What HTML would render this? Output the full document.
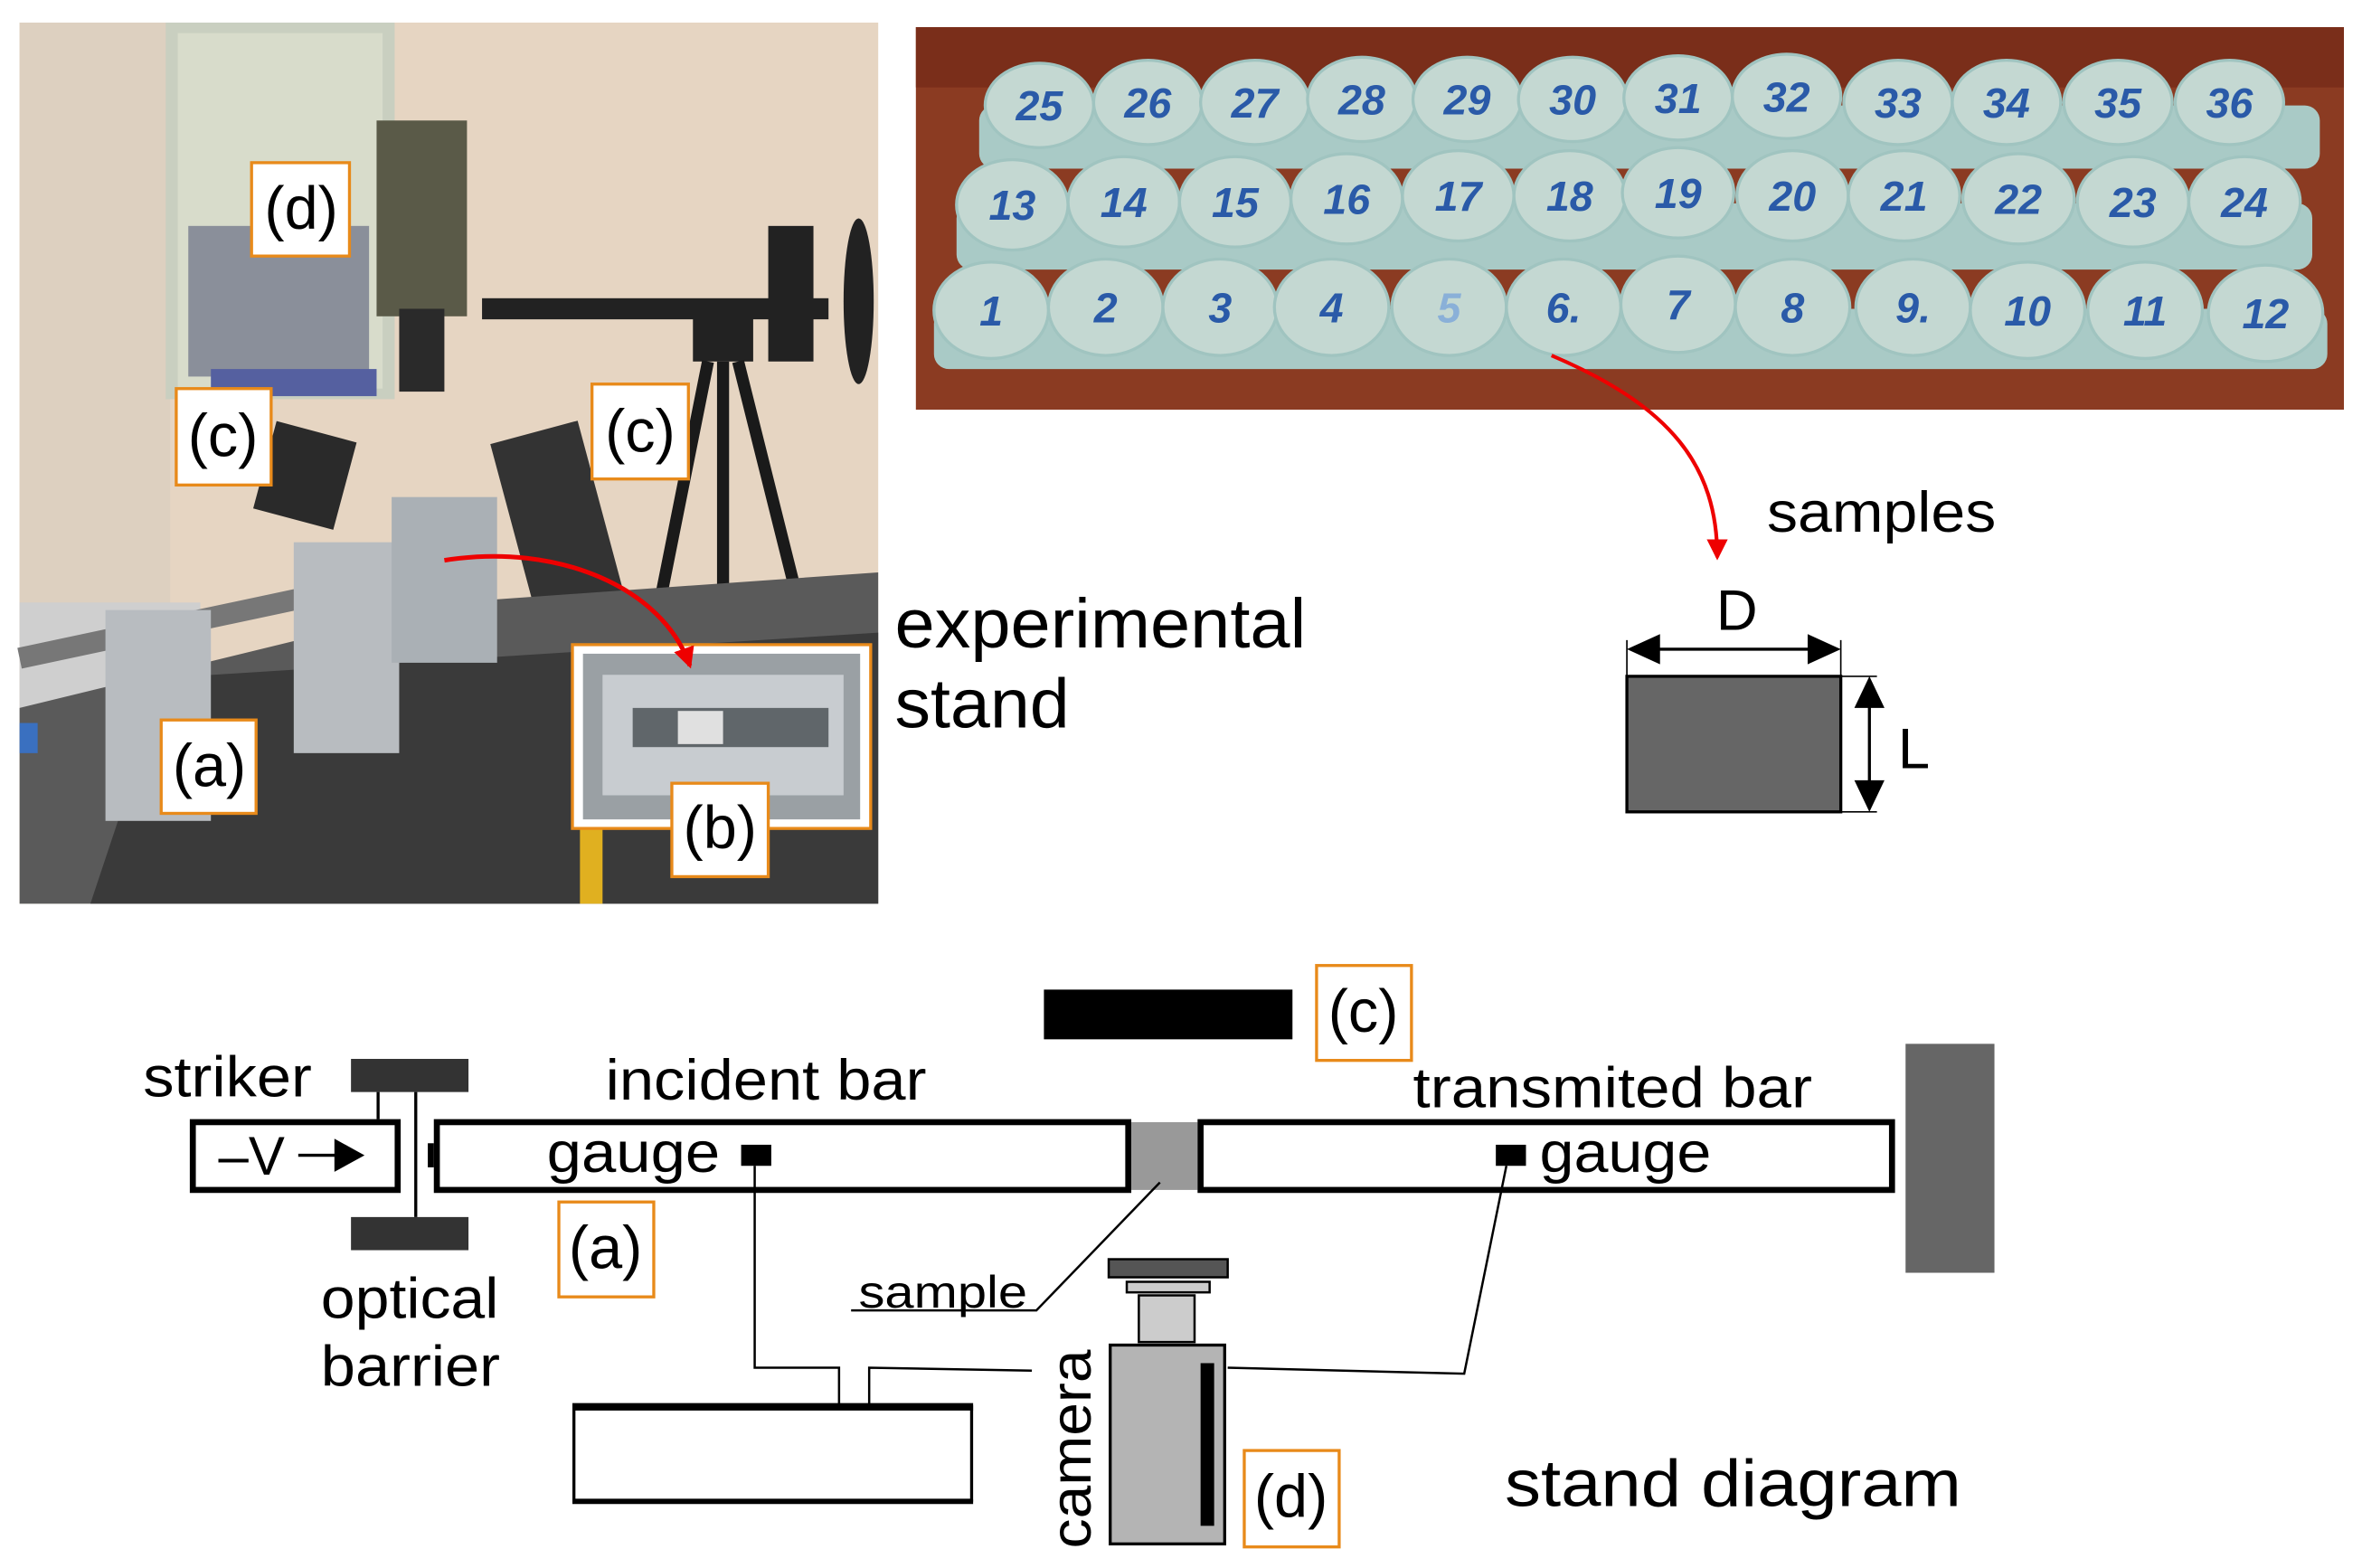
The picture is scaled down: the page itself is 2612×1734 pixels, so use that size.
<!DOCTYPE html>
<html><head><meta charset="utf-8"><style>
html,body{margin:0;padding:0;background:#fff;}
svg{display:block;}
text{font-family:"Liberation Sans",Arial,sans-serif;fill:#000;}
</style></head><body>
<svg width="2612" height="1734" viewBox="0 0 1568 1041" preserveAspectRatio="none" xmlns="http://www.w3.org/2000/svg">
<defs>
<marker id="ar2" markerWidth="14" markerHeight="14" refX="12" refY="7" orient="auto" markerUnits="userSpaceOnUse"><path d="M0,0 L14,7 L0,14 z" fill="#e00"/></marker>
</defs>
<!-- LEFT PHOTO -->
<rect x="13" y="15" width="570" height="585" fill="#e6d5c2"/>
<rect x="13" y="15" width="100" height="585" fill="#ddd0c0"/>
<rect x="110" y="15" width="152" height="250" fill="#c9cfc0"/>
<rect x="118" y="22" width="136" height="236" fill="#d8dccb"/>
<rect x="125" y="150" width="120" height="100" fill="#8a8f9a"/>
<rect x="140" y="245" width="110" height="18" fill="#5560a0"/>
<rect x="250" y="80" width="60" height="130" fill="#5a5a48"/>
<rect x="265" y="205" width="30" height="55" fill="#2a2a2a"/>
<rect x="320" y="198" width="230" height="14" fill="#222"/>
<rect x="460" y="200" width="40" height="40" fill="#222"/>
<path d="M470,240 L430,440 M480,240 L480,440 M490,240 L540,440" stroke="#1a1a1a" stroke-width="8"/>
<rect x="510" y="150" width="30" height="90" fill="#222"/>
<ellipse cx="570" cy="200" rx="10" ry="55" fill="#222"/>
<rect x="175" y="285" width="55" height="60" fill="#2a2a2a" transform="rotate(15 200 315)"/>
<rect x="340" y="285" width="60" height="120" fill="#333" transform="rotate(-15 370 345)"/>
<rect x="13" y="400" width="120" height="80" fill="#cfcfcf"/>
<polygon points="13,560 13,470 300,400 583,380 583,600 13,600" fill="#5a5a5a"/>
<polygon points="60,600 110,450 583,420 583,600" fill="#3a3a3a"/>
<rect x="13" y="430" width="300" height="14" fill="#777" transform="rotate(-12 13 437)"/>
<rect x="70" y="405" width="70" height="140" fill="#b8bcc0"/>
<rect x="195" y="360" width="70" height="140" fill="#b8bcc0"/>
<rect x="260" y="330" width="70" height="110" fill="#aab0b5"/>
<rect x="13" y="480" width="12" height="20" fill="#3a70c0"/>
<rect x="385" y="500" width="15" height="100" fill="#e0b020"/>
<rect x="380" y="428" width="198" height="122" fill="#fff" stroke="#e88a1a" stroke-width="2"/>
<rect x="387" y="434" width="184" height="110" fill="#9aa0a4"/>
<rect x="400" y="448" width="160" height="80" fill="#c8ccd0"/>
<rect x="420" y="470" width="130" height="26" fill="#60666a"/>
<rect x="450" y="472" width="30" height="22" fill="#e0e0e0"/>
<path d="M295,372 C370,360 440,390 458,442" fill="none" stroke="#e00" stroke-width="3" marker-end="url(#ar2)"/>
<g fill="#fff" stroke="#e88a1a" stroke-width="2">
<rect x="167" y="108" width="65" height="62"/><rect x="117" y="258" width="63" height="64"/><rect x="393" y="255" width="64" height="63"/><rect x="107" y="478" width="63" height="62"/><rect x="446" y="520" width="64" height="62"/>
</g>
<g font-size="40" text-anchor="middle">
<text x="200" y="152">(d)</text><text x="148" y="303">(c)</text><text x="425" y="300">(c)</text><text x="139" y="522">(a)</text><text x="478" y="563">(b)</text>
</g>
<!-- SAMPLES PHOTO -->
<rect x="608" y="18" width="948" height="254" fill="#8b3b22"/>
<rect x="608" y="18" width="948" height="40" fill="#7a2e1a"/>
<g fill="#a9cac6">
<rect x="650" y="70" width="890" height="42" rx="10"/>
<rect x="635" y="135" width="900" height="44" rx="10"/>
<rect x="620" y="205" width="925" height="40" rx="10"/>
</g>
<g fill="#c4d8d2" stroke="#a0c4c0" stroke-width="2">
<ellipse cx="690" cy="70" rx="36" ry="28"/><ellipse cx="762" cy="68" rx="36" ry="28"/><ellipse cx="833" cy="68" rx="36" ry="28"/><ellipse cx="904" cy="66" rx="36" ry="28"/><ellipse cx="974" cy="66" rx="36" ry="28"/><ellipse cx="1044" cy="66" rx="36" ry="28"/><ellipse cx="1114" cy="65" rx="36" ry="28"/><ellipse cx="1186" cy="64" rx="36" ry="28"/><ellipse cx="1260" cy="68" rx="36" ry="28"/><ellipse cx="1332" cy="68" rx="36" ry="28"/><ellipse cx="1406" cy="68" rx="36" ry="28"/><ellipse cx="1480" cy="68" rx="36" ry="28"/>
<ellipse cx="672" cy="136" rx="37" ry="30"/><ellipse cx="746" cy="134" rx="37" ry="30"/><ellipse cx="820" cy="134" rx="37" ry="30"/><ellipse cx="894" cy="132" rx="37" ry="30"/><ellipse cx="968" cy="130" rx="37" ry="30"/><ellipse cx="1042" cy="130" rx="37" ry="30"/><ellipse cx="1114" cy="128" rx="37" ry="30"/><ellipse cx="1190" cy="130" rx="37" ry="30"/><ellipse cx="1264" cy="130" rx="37" ry="30"/><ellipse cx="1340" cy="132" rx="37" ry="30"/><ellipse cx="1416" cy="134" rx="37" ry="30"/><ellipse cx="1490" cy="134" rx="37" ry="30"/>
<ellipse cx="658" cy="206" rx="38" ry="32"/><ellipse cx="734" cy="204" rx="38" ry="32"/><ellipse cx="810" cy="204" rx="38" ry="32"/><ellipse cx="884" cy="204" rx="38" ry="32"/><ellipse cx="962" cy="204" rx="38" ry="32"/><ellipse cx="1038" cy="204" rx="38" ry="32"/><ellipse cx="1114" cy="202" rx="38" ry="32"/><ellipse cx="1190" cy="204" rx="38" ry="32"/><ellipse cx="1270" cy="204" rx="38" ry="32"/><ellipse cx="1346" cy="206" rx="38" ry="32"/><ellipse cx="1424" cy="206" rx="38" ry="32"/><ellipse cx="1504" cy="208" rx="38" ry="32"/>
</g>
<g font-size="28" font-weight="bold" font-style="italic" text-anchor="middle">
<text x="690" y="80" style="fill:#2a5aa8">25</text><text x="762" y="78" style="fill:#2a5aa8">26</text><text x="833" y="78" style="fill:#2a5aa8">27</text><text x="904" y="76" style="fill:#2a5aa8">28</text><text x="974" y="76" style="fill:#2a5aa8">29</text><text x="1044" y="76" style="fill:#2a5aa8">30</text><text x="1114" y="75" style="fill:#2a5aa8">31</text><text x="1186" y="74" style="fill:#2a5aa8">32</text><text x="1260" y="78" style="fill:#2a5aa8">33</text><text x="1332" y="78" style="fill:#2a5aa8">34</text><text x="1406" y="78" style="fill:#2a5aa8">35</text><text x="1480" y="78" style="fill:#2a5aa8">36</text>
<text x="672" y="146" style="fill:#2a5aa8">13</text><text x="746" y="144" style="fill:#2a5aa8">14</text><text x="820" y="144" style="fill:#2a5aa8">15</text><text x="894" y="142" style="fill:#2a5aa8">16</text><text x="968" y="140" style="fill:#2a5aa8">17</text><text x="1042" y="140" style="fill:#2a5aa8">18</text><text x="1114" y="138" style="fill:#2a5aa8">19</text><text x="1190" y="140" style="fill:#2a5aa8">20</text><text x="1264" y="140" style="fill:#2a5aa8">21</text><text x="1340" y="142" style="fill:#2a5aa8">22</text><text x="1416" y="144" style="fill:#2a5aa8">23</text><text x="1490" y="144" style="fill:#2a5aa8">24</text>
<text x="658" y="216" style="fill:#2a5aa8">1</text><text x="734" y="214" style="fill:#2a5aa8">2</text><text x="810" y="214" style="fill:#2a5aa8">3</text><text x="884" y="214" style="fill:#2a5aa8">4</text><text x="962" y="214" style="fill:#8ab0d8">5</text><text x="1038" y="214" style="fill:#2a5aa8">6.</text><text x="1114" y="212" style="fill:#2a5aa8">7</text><text x="1190" y="214" style="fill:#2a5aa8">8</text><text x="1270" y="214" style="fill:#2a5aa8">9.</text><text x="1346" y="216" style="fill:#2a5aa8">10</text><text x="1424" y="216" style="fill:#2a5aa8">11</text><text x="1504" y="218" style="fill:#2a5aa8">12</text>
</g>
<path d="M1030,236 C1110,270 1140,310 1140,370" fill="none" stroke="#e00" stroke-width="2.5" marker-end="url(#ar2)"/>
<text x="1173" y="353" font-size="38" textLength="152" lengthAdjust="spacingAndGlyphs">samples</text>
<text x="594" y="430" font-size="46" textLength="273" lengthAdjust="spacingAndGlyphs">experimental</text>
<text x="594" y="483" font-size="46" textLength="116" lengthAdjust="spacingAndGlyphs">stand</text>
<!-- D L -->
<rect x="1080" y="449" width="142" height="90" fill="#666" stroke="#000" stroke-width="2"/>
<path d="M1080,425 V449 M1222,425 V449" stroke="#000" stroke-width="1"/>
<line x1="1100" y1="431" x2="1202" y2="431" stroke="#000" stroke-width="2"/>
<path d="M1080,431 L1102,421 L1102,441 z M1222,431 L1200,421 L1200,441 z" fill="#000"/>
<line x1="1241" y1="468" x2="1241" y2="520" stroke="#000" stroke-width="2"/>
<path d="M1241,449 L1231,470 L1251,470 z M1241,539 L1231,518 L1251,518 z" fill="#000"/>
<line x1="1222" y1="449" x2="1246" y2="449" stroke="#000" stroke-width="1"/>
<line x1="1222" y1="539" x2="1246" y2="539" stroke="#000" stroke-width="1"/>
<text x="1153" y="418" font-size="38" text-anchor="middle">D</text>
<text x="1260" y="510" font-size="38">L</text>
<!-- DIAGRAM -->
<rect x="693" y="657" width="165" height="33" fill="#000"/>
<g fill="#fff" stroke="#e88a1a" stroke-width="2">
<rect x="874" y="641" width="63" height="63"/><rect x="371" y="798" width="63" height="63"/><rect x="826" y="963" width="63" height="64"/>
</g>
<g font-size="40" text-anchor="middle"><text x="905" y="685">(c)</text><text x="402" y="842">(a)</text><text x="857" y="1007">(d)</text></g>
<rect x="1265" y="693" width="59" height="152" fill="#666"/>
<rect x="233" y="703" width="78" height="22" fill="#333"/>
<rect x="233" y="808" width="78" height="22" fill="#333"/>
<path d="M251,725 V743 M276,725 V808" stroke="#000" stroke-width="2"/>
<rect x="128" y="745" width="136" height="45" fill="#fff" stroke="#000" stroke-width="4"/>
<text x="145" y="780" font-size="36">–V</text>
<line x1="198" y1="767" x2="226" y2="767" stroke="#000" stroke-width="2"/>
<path d="M242,767 L222,756 L222,778 z" fill="#000"/>
<rect x="284" y="759" width="4" height="16" fill="#000"/>
<rect x="290" y="745" width="459" height="45" fill="#fff" stroke="#000" stroke-width="4"/>
<rect x="751" y="745" width="44" height="45" fill="#999"/>
<rect x="797" y="745" width="459" height="45" fill="#fff" stroke="#000" stroke-width="4"/>
<rect x="492" y="760" width="20" height="14" fill="#000"/>
<rect x="993" y="760" width="20" height="14" fill="#000"/>
<text x="95" y="728" font-size="38" textLength="112" lengthAdjust="spacingAndGlyphs">striker</text>
<text x="402" y="730" font-size="38" textLength="213" lengthAdjust="spacingAndGlyphs">incident bar</text>
<text x="938" y="735" font-size="38" textLength="265" lengthAdjust="spacingAndGlyphs">transmited bar</text>
<text x="363" y="778" font-size="38" textLength="115" lengthAdjust="spacingAndGlyphs">gauge</text>
<text x="1022" y="778" font-size="38" textLength="114" lengthAdjust="spacingAndGlyphs">gauge</text>
<text x="213" y="875" font-size="38" textLength="118" lengthAdjust="spacingAndGlyphs">optical</text>
<text x="213" y="920" font-size="38" textLength="119" lengthAdjust="spacingAndGlyphs">barrier</text>
<g fill="none" stroke="#000" stroke-width="1.5">
<path d="M501,774 V908 H557 V933"/>
<path d="M577,933 V908 L685,910"/>
<path d="M770,785 L688,870 H565"/>
<path d="M1000,774 L972,912 L815,908"/>
</g>
<text x="570" y="868" font-size="30" textLength="112" lengthAdjust="spacingAndGlyphs">sample</text>
<rect x="381" y="934" width="264" height="62" fill="#fff" stroke="#000" stroke-width="2"/>
<line x1="380" y1="934" x2="646" y2="934" stroke="#000" stroke-width="5"/>
<line x1="380" y1="997" x2="646" y2="997" stroke="#000" stroke-width="3"/>
<rect x="736" y="836" width="79" height="12" fill="#555" stroke="#000" stroke-width="1.5"/>
<rect x="748" y="851" width="55" height="7" fill="#ccc" stroke="#000" stroke-width="1.5"/>
<rect x="756" y="860" width="37" height="31" fill="#ccc" stroke="#000" stroke-width="1.5"/>
<rect x="737" y="893" width="76" height="132" fill="#b4b4b4" stroke="#000" stroke-width="2"/>
<rect x="797" y="905" width="9" height="108" fill="#000"/>
<text transform="translate(724,962) rotate(-90)" font-size="38" text-anchor="middle" textLength="132" lengthAdjust="spacingAndGlyphs">camera</text>
<text x="999" y="1000" font-size="44" textLength="303" lengthAdjust="spacingAndGlyphs">stand diagram</text>
</svg>
</body></html>
